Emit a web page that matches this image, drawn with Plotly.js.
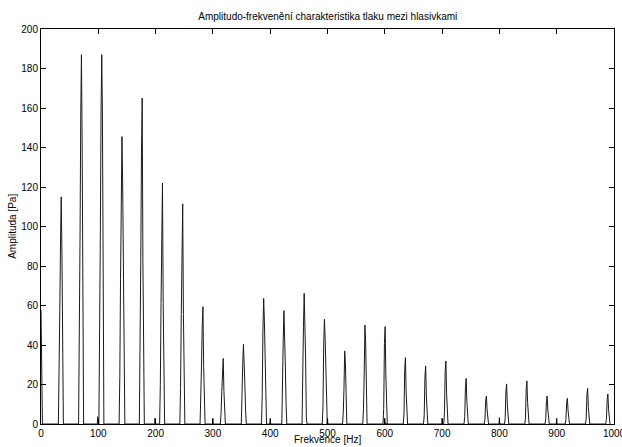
<!DOCTYPE html>
<html>
<head>
<meta charset="utf-8">
<script src="https://cdn.plot.ly/plotly-3.0.1.min.js"></script>
<style>html,body{margin:0;padding:0;background:#fff;}#chart{width:622px;height:447px;}</style>
</head>
<body>
<div id="chart"></div>
<script>
// Harmonic centre frequencies [Hz]
const harmonicFreqs = [0, 35.3, 70.6, 106, 141.3, 176.6, 212, 247.3, 282.6, 318, 353.3, 388.6, 424, 459.3, 494.6, 530, 565.3, 600.6, 636, 671.3, 706.6, 742, 777.3, 812.6, 848, 883.3, 918.6, 954, 989.3];
// Amplitudes of the spectral bins around each harmonic [Pa]
const peakBins = [
  [57.7, 19],
  [19, 57, 91, 115, 86, 28],
  [31, 93, 156, 187, 140, 46],
  [31, 93, 156, 187, 155, 31],
  [24, 73, 121, 145.5, 121, 73, 24],
  [27, 82, 137, 165, 82, 27],
  [20, 61, 102, 122, 61, 20],
  [18, 55.5, 93, 111.5, 55.5, 18],
  [10, 29.5, 49, 59.4, 29.5, 10],
  [5.4, 16.4, 27.3, 33.2, 16.4, 5.4],
  [10, 30, 40.3, 33, 20, 7],
  [15.5, 47.6, 63.6, 52.3, 31.6, 10.5],
  [14.2, 42.9, 57.4, 47.2, 28.7, 9.6],
  [16.4, 49.3, 66.2, 54.7, 33, 3],
  [8.8, 39.5, 53, 43.9, 26.5, 3],
  [5.7, 18, 37, 30.7, 5.7],
  [7.9, 24.8, 50.1, 41.7, 7.9],
  [7.9, 40.8, 49.3, 24.3, 3],
  [5.4, 27.7, 33.6, 16.4, 5.4],
  [4.6, 24, 29.4, 14.2, 4.6],
  [5.4, 26.5, 31.9, 15.5, 5.4],
  [3.7, 18.9, 23.1, 11.3, 3.7],
  [2.4, 11.6, 14.2, 7.1, 2.4],
  [2.9, 16.4, 20.3, 9.6, 2.9],
  [2.9, 18, 21.8, 10.8, 2.9],
  [2.4, 11.3, 14.2, 7.1, 2.4],
  [2.4, 10.5, 13, 6.8, 2.4],
  [2.9, 14.7, 18, 8.4, 2.9],
  [2.7, 12.2, 15.2, 7.4, 2.7]
];
// Small components at multiples of 100 Hz
const humFreqs = [99, 199, 300, 400, 500, 600, 700, 800, 900];
const humAmps  = [3.7, 3.0, 2.9, 2.9, 3.0, 3.0, 3.0, 3.2, 2.9];
const binHz = 1.25;

const xTickVals = [0,100,200,300,400,500,600,700,800,900,1000];
const yTickVals = [0,20,40,60,80,100,120,140,160,180,200];

const titleText = 'Amplitudo-frekvenění charakteristika tlaku mezi hlasivkami';
const xTitleText = 'Frekvence [Hz]';
const yTitleText = 'Amplituda [Pa]';

// Build segments
const segs = [];
harmonicFreqs.forEach((f, k) => {
  const bins = peakBins[k];
  const top = bins.indexOf(Math.max(...bins));
  const xs = [], ys = [];
  if (f > 0) { xs.push(f + (-1 - top) * binHz); ys.push(0); }
  bins.forEach((v, i) => { xs.push(f + (i - top) * binHz); ys.push(v); });
  xs.push(f + (bins.length - top) * binHz); ys.push(0);
  segs.push({x: xs, y: ys});
});
humFreqs.forEach((f, i) => {
  segs.push({x: [f - binHz*0.5, f, f + binHz*0.5], y: [0, humAmps[i], 0]});
});
segs.sort((a, b) => a.x[0] - b.x[0]);
const X = [], Y = [];
segs.forEach(s => { X.push(...s.x); Y.push(...s.y); });

const font = {family: 'Liberation Sans, Arial, sans-serif', size: 10, color: '#000'};
const axisCommon = {
  showline: true, linecolor: '#000', linewidth: 1, mirror: 'allticks',
  ticks: 'inside', ticklen: 5, tickcolor: '#000', tickwidth: 1,
  showgrid: false, zeroline: false, tickfont: font, automargin: false,
  ticklabeloverflow: 'allow'
};

Plotly.newPlot('chart', [{
  x: X, y: Y, type: 'scatter', mode: 'lines',
  line: {color: '#1a1a1a', width: 1}, hoverinfo: 'skip'
}], {
  width: 622, height: 447,
  margin: {l: 41, r: 8, t: 29, b: 23},
  paper_bgcolor: '#fff', plot_bgcolor: '#fff',
  showlegend: false,
  font: font,
  title: {text: titleText, font: font, x: 0.527, xanchor: 'center', y: 0.962, yanchor: 'middle'},
  xaxis: Object.assign({}, axisCommon, {range: [0, 1000], tickvals: xTickVals, ticktext: xTickVals.map(String)}),
  yaxis: Object.assign({}, axisCommon, {range: [0, 200], tickvals: yTickVals, ticktext: yTickVals.map(String)}),
  annotations: [
    {text: xTitleText, xref: 'paper', yref: 'paper', x: 0.5, y: -0.0405, xanchor: 'center', yanchor: 'middle', showarrow: false, font: font},
    {text: yTitleText, xref: 'paper', yref: 'paper', x: -0.05, y: 0.5, xanchor: 'center', yanchor: 'middle', textangle: -90, showarrow: false, font: font}
  ]
}, {staticPlot: true});
</script>
</body>
</html>
